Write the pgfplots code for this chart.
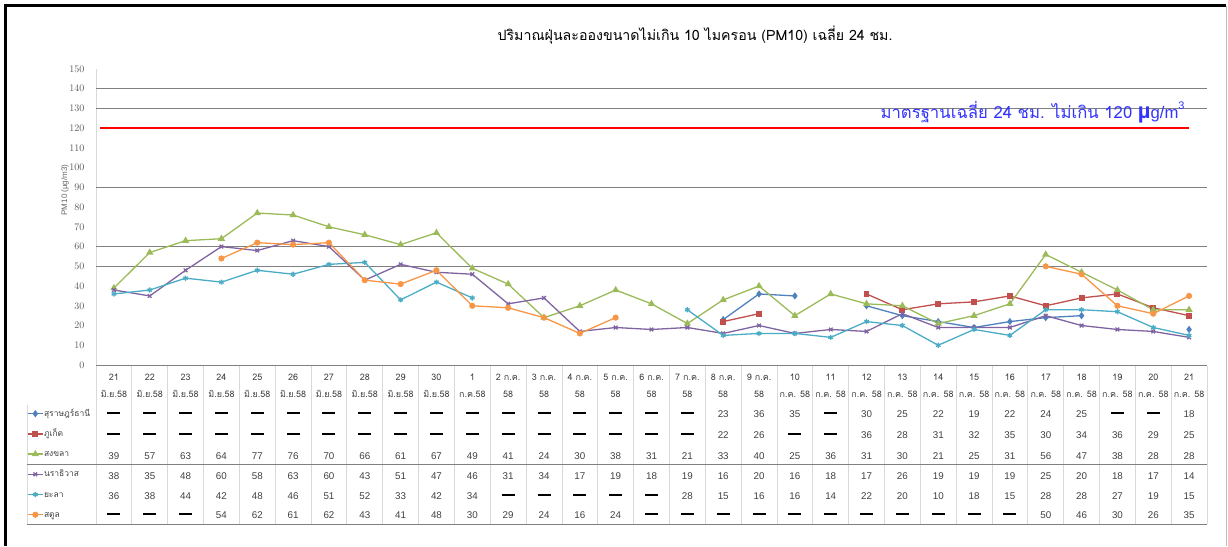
\documentclass[border=0pt]{standalone}
\usepackage{fontspec}
\setmainfont{Liberation Sans}
\newfontfamily\thaifont[Script=Thai]{Loma}
\usepackage{pgfplots}
\usepackage{pgfplotstable}
\pgfplotsset{compat=1.18}
\definecolor{cSur}{HTML}{4F81BD}
\definecolor{cPhu}{HTML}{C0504D}
\definecolor{cSong}{HTML}{9BBB59}
\definecolor{cNara}{HTML}{8064A2}
\definecolor{cYala}{HTML}{4BACC6}
\definecolor{cSatun}{HTML}{F79646}
\definecolor{txt}{HTML}{404040}
\definecolor{stdblue}{HTML}{3333FF}
\pgfplotstableread{
x sur phu song nara yala satun
0 nan nan 39 38 36 nan
1 nan nan 57 35 38 nan
2 nan nan 63 48 44 nan
3 nan nan 64 60 42 54
4 nan nan 77 58 48 62
5 nan nan 76 63 46 61
6 nan nan 70 60 51 62
7 nan nan 66 43 52 43
8 nan nan 61 51 33 41
9 nan nan 67 47 42 48
10 nan nan 49 46 34 30
11 nan nan 41 31 nan 29
12 nan nan 24 34 nan 24
13 nan nan 30 17 nan 16
14 nan nan 38 19 nan 24
15 nan nan 31 18 nan nan
16 nan nan 21 19 28 nan
17 23 22 33 16 15 nan
18 36 26 40 20 16 nan
19 35 nan 25 16 16 nan
20 nan nan 36 18 14 nan
21 30 36 31 17 22 nan
22 25 28 30 26 20 nan
23 22 31 21 19 10 nan
24 19 32 25 19 18 nan
25 22 35 31 19 15 nan
26 24 30 56 25 28 50
27 25 34 47 20 28 46
28 nan 36 38 18 27 30
29 nan 29 28 17 19 26
30 18 25 28 14 15 35
}\pmdata
\newcommand{\D}{\textcolor{black}{\rule[2.5pt]{13pt}{1.8pt}}}
\begin{document}
\begin{tikzpicture}
\path[use as bounding box] (0pt,0pt) rectangle (1228pt,546pt);
% frame
\draw[black, line width=3pt] (5pt,0pt) -- (5pt,540pt) -- (1226pt,540pt);
\draw[black!25, line width=1pt] (1226pt,540pt) -- (1226pt,0pt);
% title
\node[font=\thaifont\fontsize{14.2}{15}\selectfont, text=black] at (695pt,511pt)
  {ปริมาณฝุ่นละอองขนาดไม่เกิน 10 ไมครอน (PM10) เฉลี่ย 24 ชม.};
% y label
\node[rotate=90, font=\fontsize{8}{9}\selectfont, text=black!60] at (65pt,356pt) {PM10 (µg/m3)};
\begin{axis}[
  at={(96pt,181pt)}, anchor=south west,
  scale only axis, width=1111pt, height=296pt,
  xmin=-0.5, xmax=30.5, ymin=0, ymax=150,
  axis lines=left, axis line style={-},
  x axis line style={draw=black!50, line width=0.8pt},
  y axis line style={draw=black!15, line width=0.8pt},
  xtick=\empty,
  ytick={0,10,...,150},
  major tick length=0pt,
  yticklabel style={font=\fontsize{10}{10}\selectfont, text=black!65, xshift=-8pt},
  extra y ticks={50,60,90,130,140},
  extra y tick labels={},
  extra y tick style={grid=major, major grid style={draw=black!50, line width=0.8pt}},
  unbounded coords=jump,
  clip=false,
  legend style={at={(-0.0621,-0.1436)}, anchor=north west, draw=none, fill=none,
    font=\thaifont\fontsize{8.5}{9}\selectfont, text=txt, row sep=8.2pt, inner sep=0pt,
    nodes={inner sep=0.5pt, text height=8pt, text depth=3pt}},
  legend cell align=left,
  legend image code/.code={\draw[mark repeat=2,mark phase=2] plot coordinates {(0pt,0pt) (7.5pt,0pt) (15pt,0pt)};},
]
\addplot[cSur, line width=1.3pt, mark=diamond*, mark size=2.6pt] table[x=x,y=sur]{\pmdata};
\addlegendentry{สุราษฎร์ธานี}
\addplot[cPhu, line width=1.3pt, mark=square*, mark size=2.3pt] table[x=x,y=phu]{\pmdata};
\addlegendentry{ภูเก็ต}
\addplot[cSong, line width=1.3pt, mark=triangle*, mark size=2.9pt] table[x=x,y=song]{\pmdata};
\addlegendentry{สงขลา}
\addplot[cNara, line width=1.3pt, mark=x, mark size=2.6pt] table[x=x,y=nara]{\pmdata};
\addlegendentry{นราธิวาส}
\addplot[cYala, line width=1.3pt, mark=asterisk, mark size=2.6pt] table[x=x,y=yala]{\pmdata};
\addlegendentry{ยะลา}
\addplot[cSatun, line width=1.3pt, mark=*, mark size=2.4pt] table[x=x,y=satun]{\pmdata};
\addlegendentry{สตูล}
\addplot[red, line width=1.6pt, forget plot] coordinates {(-0.39,120) (30.0,120)};
\node[anchor=east, text=stdblue, inner sep=0pt] at (axis cs:29.88,128)
  {{\thaifont\fontsize{16.7}{17}\selectfont มาตรฐานเฉลี่ย 24 ชม. ไม่เกิน 120 }{\fontsize{22}{22}\selectfont\bfseries µ}{\fontsize{16.7}{17}\selectfont g/m}\raisebox{9pt}{\fontsize{11}{11}\selectfont 3}};
\end{axis}
% data table grid
\foreach \k in {0,...,31} {
  \draw[black!15, line width=0.8pt] ({96pt+35.84pt*\k},180pt) -- ({96pt+35.84pt*\k},22pt);
}
\draw[black!15, line width=0.8pt] (27pt,141pt) -- (27pt,22pt);
\draw[black!50, line width=0.8pt] (27pt,82pt) -- (1207pt,82pt);
\draw[black!50, line width=0.8pt] (27pt,22pt) -- (1207pt,22pt);
% header
\begin{scope}[every node/.style={font=\thaifont\fontsize{9}{10}\selectfont, text=txt, inner sep=0pt}]
\foreach \v [count=\i from 0] in {21,22,23,24,25,26,27,28,29,30,1,2 ก.ค.,3 ก.ค.,4 ก.ค.,5 ก.ค.,6 ก.ค.,7 ก.ค.,8 ก.ค.,9 ก.ค.,10,11,12,13,14,15,16,17,18,19,20,21}
  \node at ({113.92pt+35.84pt*\i},169pt) {\v};
\foreach \v [count=\i from 0] in {มิ.ย.58,มิ.ย.58,มิ.ย.58,มิ.ย.58,มิ.ย.58,มิ.ย.58,มิ.ย.58,มิ.ย.58,มิ.ย.58,มิ.ย.58,ก.ค.58,58,58,58,58,58,58,58,58,ก.ค. 58,ก.ค. 58,ก.ค. 58,ก.ค. 58,ก.ค. 58,ก.ค. 58,ก.ค. 58,ก.ค. 58,ก.ค. 58,ก.ค. 58,ก.ค. 58,ก.ค. 58}
  \node at ({113.92pt+35.84pt*\i},152pt) {\v};
\end{scope}
% rows
\begin{scope}[every node/.style={font=\fontsize{9.8}{10}\selectfont, text=txt, inner sep=0pt}]
\foreach \v [count=\i from 0] in {\D,\D,\D,\D,\D,\D,\D,\D,\D,\D,\D,\D,\D,\D,\D,\D,\D,23,36,35,\D,30,25,22,19,22,24,25,\D,\D,18}
  \node at ({113.92pt+35.84pt*\i},132pt) {\v};
\foreach \v [count=\i from 0] in {\D,\D,\D,\D,\D,\D,\D,\D,\D,\D,\D,\D,\D,\D,\D,\D,\D,22,26,\D,\D,36,28,31,32,35,30,34,36,29,25}
  \node at ({113.92pt+35.84pt*\i},111pt) {\v};
\foreach \v [count=\i from 0] in {39,57,63,64,77,76,70,66,61,67,49,41,24,30,38,31,21,33,40,25,36,31,30,21,25,31,56,47,38,28,28}
  \node at ({113.92pt+35.84pt*\i},90pt) {\v};
\foreach \v [count=\i from 0] in {38,35,48,60,58,63,60,43,51,47,46,31,34,17,19,18,19,16,20,16,18,17,26,19,19,19,25,20,18,17,14}
  \node at ({113.92pt+35.84pt*\i},70pt) {\v};
\foreach \v [count=\i from 0] in {36,38,44,42,48,46,51,52,33,42,34,\D,\D,\D,\D,\D,28,15,16,16,14,22,20,10,18,15,28,28,27,19,15}
  \node at ({113.92pt+35.84pt*\i},50pt) {\v};
\foreach \v [count=\i from 0] in {\D,\D,\D,54,62,61,62,43,41,48,30,29,24,16,24,\D,\D,\D,\D,\D,\D,\D,\D,\D,\D,\D,50,46,30,26,35}
  \node at ({113.92pt+35.84pt*\i},31pt) {\v};
\end{scope}
\end{tikzpicture}
\end{document}
